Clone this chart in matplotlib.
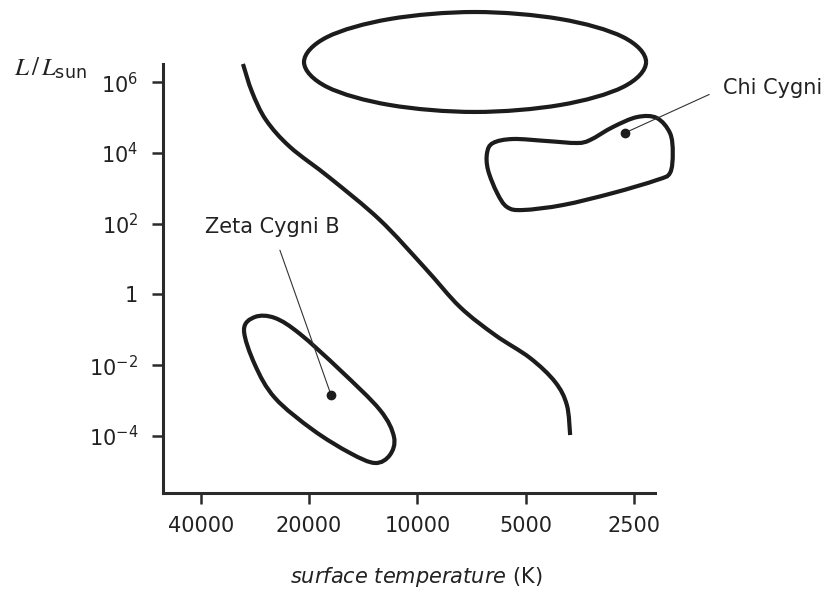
import numpy as np
import matplotlib.pyplot as plt
from matplotlib.path import Path
from matplotlib.patches import PathPatch
from matplotlib.ticker import NullLocator

# outlines: surface temperature (K) and L / L_sun
main_seq_T = [30520, 28800, 26340, 22580, 17480, 12700, 9520, 7610, 6080, 4860, 4140,
              3840, 3760]
main_seq_L = [3.3e6, 5.32e5, 8.59e4, 1.48e4, 1.96e3, 127, 5.58, 0.44, 0.071, 0.0159,
              3.33e-3, 7.43e-4, 1.05e-4]

supergiant_T = [2313, 2680, 4007, 6916, 11920, 17810, 20650, 17810, 11920, 6916, 4007, 2680]
supergiant_L = [3.75e6, 1.91e7, 6.18e7, 9.75e7, 6.18e7, 1.91e7, 3.75e6, 7.36e5,
                2.28e5, 1.45e5, 2.28e5, 7.36e5]

giant_T = [6160, 5420, 4360, 3600, 3310, 2860, 2450, 2160, 1985, 1950, 1985,
           2160, 2860, 3935, 5085, 5630, 6000, 6360, 6400]
giant_L = [1.92e4, 2.49e4, 2.18e4, 1.92e4, 2.33e4, 5.44e4, 1.04e5, 9.8e4, 3.68e4,
           1.0e4, 2.72e3, 1.72e3, 738, 338, 244, 296, 738, 3.30e3, 1.0e4]

dwarf_T = [30320, 28260, 24860, 19490, 15380, 13110, 11920, 11610, 12700, 16400,
           21180, 24860, 28260]
dwarf_L = [0.0984, 0.0101, 1.17e-3, 1.46e-4, 3.26e-5, 1.70e-5, 2.86e-5, 9.25e-5,
           5.37e-4, 7.26e-3, 0.0759, 0.215, 0.230]

stars = ['Chi Cygni', 'Zeta Cygni B']
star_T = [2650, 17370]
star_L = [3.7e4, 1.43e-3]
label_T = [1410, 25260]
label_L = [6.9e5, 81]

x_ticks = [40000, 20000, 10000, 5000, 2500]
y_ticks = [1e6, 1e4, 1e2, 1, 1e-2, 1e-4]
y_ticklabels = ['$10^{6}$', '$10^{4}$', '$10^{2}$', '1', '$10^{-2}$', '$10^{-4}$']

INK = '#1c1c1c'


def smooth_outline(temps, lums, closed=True):
    """Catmull-Rom curve through the points, done in log space."""
    p = np.column_stack([np.log2(temps), np.log10(lums)])
    n = len(p)
    verts = [p[0]]
    codes = [Path.MOVETO]
    n_seg = n if closed else n - 1
    for i in range(n_seg):
        if closed:
            p0, p1, p2, p3 = p[(i - 1) % n], p[i], p[(i + 1) % n], p[(i + 2) % n]
        else:
            p0, p1, p2, p3 = p[max(i - 1, 0)], p[i], p[i + 1], p[min(i + 2, n - 1)]
        verts += [p1 + (p2 - p0) / 6, p2 - (p3 - p1) / 6, p2]
        codes += [Path.CURVE4] * 3
    verts = np.array(verts)
    verts = np.column_stack([2 ** verts[:, 0], 10 ** verts[:, 1]])
    return Path(verts, codes)


fig = plt.figure(figsize=(8.37, 5.93), dpi=100)
ax = fig.add_axes([0.1951, 0.1681, 0.5875, 0.724])

ax.set_xscale('log', base=2)
ax.set_yscale('log')
ax.set_xlim(50820, 2184)
ax.set_ylim(2.36e-6, 3.3e6)

for T, L, closed in [(main_seq_T, main_seq_L, False),
                     (supergiant_T, supergiant_L, True),
                     (giant_T, giant_L, True),
                     (dwarf_T, dwarf_L, True)]:
    ax.add_patch(PathPatch(smooth_outline(T, L, closed), fill=False, lw=3,
                           ec=INK, capstyle='butt', clip_on=False))

ax.plot(star_T, star_L, 'o', color=INK, ms=6, clip_on=False, zorder=5)

# leader lines and names
ax.annotate(stars[0], xy=(star_T[0], star_L[0]), xytext=(label_T[0], label_L[0]),
            ha='left', va='center', fontsize=15, color='#222222', annotation_clip=False,
            arrowprops=dict(arrowstyle='-', color='#333333', lw=0.8,
                            relpos=(0, 0.5), shrinkA=9, shrinkB=0))
ax.annotate(stars[1], xy=(star_T[1], star_L[1]), xytext=(label_T[1], label_L[1]),
            ha='center', va='center', fontsize=15, color='#222222', annotation_clip=False,
            arrowprops=dict(arrowstyle='-', color='#333333', lw=0.8,
                            relpos=(0.52, 0), shrinkA=8, shrinkB=0))

for side in ['top', 'right']:
    ax.spines[side].set_visible(False)
for side in ['left', 'bottom']:
    ax.spines[side].set_linewidth(2.2)
    ax.spines[side].set_color('#2a2a2a')

ax.set_xticks(x_ticks)
ax.set_xticklabels([str(t) for t in x_ticks])
ax.set_yticks(y_ticks)
ax.set_yticklabels(y_ticklabels)
ax.xaxis.set_minor_locator(NullLocator())
ax.yaxis.set_minor_locator(NullLocator())
ax.tick_params(axis='both', direction='out', length=8, width=1.8, color='#2a2a2a',
               labelsize=15, labelcolor='#222222')
ax.tick_params(axis='x', pad=8)
ax.tick_params(axis='y', pad=10)

fig.text(416.5 / 837, 1 - 577 / 593, r'$\mathit{surface\ temperature}$ (K)',
         ha='center', va='center', fontsize=15, color='#222222')
fig.text(50 / 837, 1 - 68 / 593, r'$L\,/\,L_{\mathregular{sun}}$', math_fontfamily='stix',
         ha='center', va='center', fontsize=18, color='#222222')

fig.savefig('out.png', dpi=100)
